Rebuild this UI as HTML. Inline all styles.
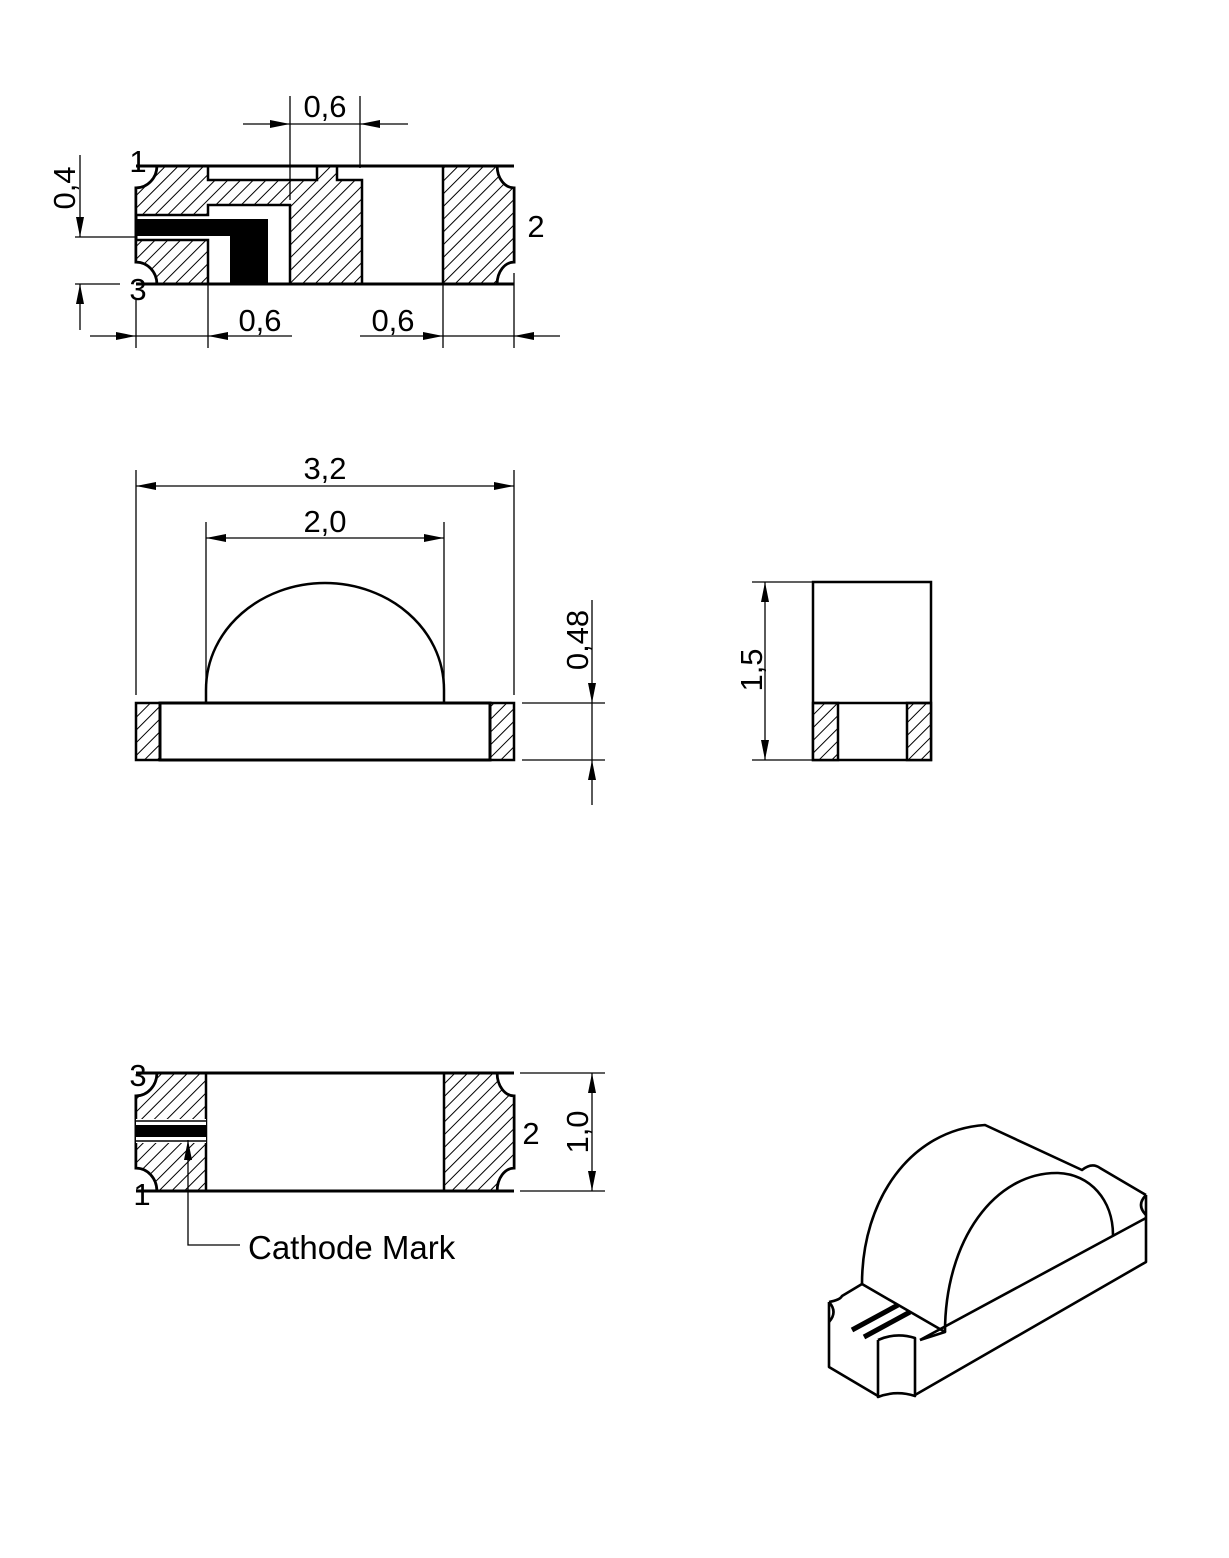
<!DOCTYPE html>
<html><head><meta charset="utf-8"><style>
html,body{margin:0;padding:0;background:#fff;}
svg{display:block;}
text{font-family:"Liberation Sans",sans-serif;fill:#000;}
</style></head><body>
<svg width="1229" height="1558" viewBox="0 0 1229 1558" xmlns="http://www.w3.org/2000/svg">
<defs>
<pattern id="h" patternUnits="userSpaceOnUse" width="9" height="9" patternTransform="rotate(45)">
<rect width="9" height="9" fill="#fff"/><line x1="0" y1="0" x2="0" y2="9" stroke="#000" stroke-width="2"/>
</pattern>
<marker id="a" viewBox="0 0 20 8" refX="20" refY="4" markerWidth="20" markerHeight="8" markerUnits="userSpaceOnUse" orient="auto"><path d="M0,0 L20,4 L0,8 Z" fill="#000"/></marker>
</defs>
<g stroke="#000" fill="none">

<!-- TOP VIEW -->
<path d="M157,166 H497 A17,22 0 0 0 514,188 V262 A17,22 0 0 0 497,284 H157 A21,22 0 0 0 136,262 V188 A21,22 0 0 0 157,166 Z" stroke-width="3" fill="#fff"/>
<path d="M157,166 H208 V180 H317 V166 H337 V180 H362 V284 H290 V205 H208 V215 H136 V188 A21,22 0 0 0 157,166 Z" fill="url(#h)" stroke-width="2.5"/>
<path d="M136,240 H208 V284 H157 A21,22 0 0 0 136,262 Z" fill="url(#h)" stroke-width="2.5"/>
<path d="M136,219 H268 V284 H230 V236 H136 Z" fill="#000" stroke="none"/>
<path d="M443,166 H497 A17,22 0 0 0 514,188 V262 A17,22 0 0 0 497,284 H443 Z" fill="url(#h)" stroke-width="2.5"/>
<line x1="136" y1="166" x2="514" y2="166" stroke-width="3"/>
<line x1="136" y1="284" x2="514" y2="284" stroke-width="3"/>
<g stroke-width="1.3">
<line x1="290" y1="96" x2="290" y2="200"/><line x1="360" y1="96" x2="360" y2="168"/>
<line x1="243" y1="124" x2="290" y2="124" marker-end="url(#a)"/>
<line x1="408" y1="124" x2="360" y2="124" marker-end="url(#a)"/>
<line x1="290" y1="124" x2="360" y2="124"/>
<line x1="75" y1="237" x2="136" y2="237"/><line x1="75" y1="284" x2="120" y2="284"/>
<line x1="80" y1="155" x2="80" y2="237" marker-end="url(#a)"/>
<line x1="80" y1="330" x2="80" y2="284" marker-end="url(#a)"/>
<line x1="136" y1="300" x2="136" y2="348"/><line x1="208" y1="284" x2="208" y2="348"/>
<line x1="443" y1="284" x2="443" y2="348"/><line x1="514" y1="273" x2="514" y2="348"/>
<line x1="90" y1="336" x2="136" y2="336" marker-end="url(#a)"/>
<line x1="292" y1="336" x2="208" y2="336" marker-end="url(#a)"/>
<line x1="136" y1="336" x2="208" y2="336"/>
<line x1="360" y1="336" x2="443" y2="336" marker-end="url(#a)"/>
<line x1="560" y1="336" x2="514" y2="336" marker-end="url(#a)"/>
<line x1="443" y1="336" x2="514" y2="336"/>
</g>

<!-- FRONT VIEW -->
<g stroke-width="1.3">
<line x1="136" y1="470" x2="136" y2="695"/><line x1="514" y1="470" x2="514" y2="695"/>
<line x1="325" y1="486" x2="136" y2="486" marker-end="url(#a)"/>
<line x1="325" y1="486" x2="514" y2="486" marker-end="url(#a)"/>
<line x1="206" y1="522" x2="206" y2="700"/><line x1="444" y1="522" x2="444" y2="700"/>
<line x1="325" y1="538" x2="206" y2="538" marker-end="url(#a)"/>
<line x1="325" y1="538" x2="444" y2="538" marker-end="url(#a)"/>
<line x1="522" y1="703" x2="605" y2="703"/><line x1="522" y1="760" x2="605" y2="760"/>
<line x1="592" y1="600" x2="592" y2="703" marker-end="url(#a)"/>
<line x1="592" y1="805" x2="592" y2="760" marker-end="url(#a)"/>
<line x1="592" y1="703" x2="592" y2="760"/>
</g>
<path d="M206,703 V690 C206,628 262,583 325,583 C388,583 444,628 444,690 V703" stroke-width="2.5" fill="#fff"/>
<rect x="136" y="703" width="24" height="57" fill="url(#h)" stroke-width="2.5"/>
<rect x="490" y="703" width="24" height="57" fill="url(#h)" stroke-width="2.5"/>
<rect x="160" y="703" width="330" height="57" stroke-width="3"/>

<!-- SIDE VIEW -->
<rect x="813" y="582" width="118" height="178" stroke-width="2.5" fill="#fff"/>
<rect x="813" y="703" width="25" height="57" fill="url(#h)" stroke-width="2.5"/>
<rect x="907" y="703" width="24" height="57" fill="url(#h)" stroke-width="2.5"/>
<line x1="813" y1="703" x2="931" y2="703" stroke-width="2.5"/>
<g stroke-width="1.3">
<line x1="752" y1="582" x2="813" y2="582"/><line x1="752" y1="760" x2="813" y2="760"/>
<line x1="765" y1="670" x2="765" y2="582" marker-end="url(#a)"/>
<line x1="765" y1="670" x2="765" y2="760" marker-end="url(#a)"/>
</g>

<!-- BOTTOM VIEW -->
<path d="M157,1073 H497 A17,23 0 0 0 514,1096 V1168 A17,23 0 0 0 497,1191 H157 A21,23 0 0 0 136,1168 V1096 A21,23 0 0 0 157,1073 Z" stroke-width="3" fill="#fff"/>
<path d="M157,1073 H206 V1191 H157 A21,23 0 0 0 136,1168 V1096 A21,23 0 0 0 157,1073 Z" fill="url(#h)" stroke-width="2.5"/>
<rect x="136" y="1119" width="70" height="24" fill="#fff" stroke="none"/>
<line x1="136" y1="1121" x2="206" y2="1121" stroke-width="1.5"/>
<line x1="136" y1="1141" x2="206" y2="1141" stroke-width="1.5"/>
<rect x="136" y="1125" width="70" height="12" fill="#000" stroke="none"/>
<path d="M444,1073 H497 A17,23 0 0 0 514,1096 V1168 A17,23 0 0 0 497,1191 H444 Z" fill="url(#h)" stroke-width="2.5"/>
<line x1="136" y1="1073" x2="514" y2="1073" stroke-width="3"/>
<line x1="136" y1="1191" x2="514" y2="1191" stroke-width="3"/>
<g stroke-width="1.3">
<line x1="520" y1="1073" x2="605" y2="1073"/><line x1="520" y1="1191" x2="605" y2="1191"/>
<line x1="592" y1="1132" x2="592" y2="1073" marker-end="url(#a)"/>
<line x1="592" y1="1132" x2="592" y2="1191" marker-end="url(#a)"/>
<path d="M240,1245 H188 V1140" marker-end="url(#a)"/>
</g>

<!-- 3D VIEW -->
<g stroke-width="2.6" stroke-linejoin="round">
<path d="M829,1302 V1367 L878,1396"/>
<path d="M878,1340 V1397 Q896,1390 915,1396 V1338 Q896,1332 878,1340"/>
<path d="M915,1395 L1146,1262 V1195"/>
<path d="M920,1340 L1146,1218"/>
<path d="M829,1302 Q840,1300 842,1296 L862,1284 L945,1332 L920,1340"/>
<path d="M829,1302 Q838,1312 829,1322"/>
<path d="M862,1284 C862,1200 910,1130 985,1125 L1082,1170 Q1092,1162 1100,1168 L1146,1195"/>
<path d="M1146,1195 Q1136,1205 1146,1215"/>
<path d="M945,1332 C945,1240 995,1172 1058,1173 C1090,1174 1113,1200 1113,1235"/>
<path d="M852,1330 L898,1305 M864,1337 L910,1312" stroke-width="5"/>
</g>
</g>

<!-- TEXT -->
<g font-size="31">
<text x="325" y="117" text-anchor="middle">0,6</text>
<text x="138" y="172" text-anchor="middle">1</text>
<text x="138" y="300" text-anchor="middle">3</text>
<text x="536" y="237" text-anchor="middle">2</text>
<text x="260" y="331" text-anchor="middle">0,6</text>
<text x="393" y="331" text-anchor="middle">0,6</text>
<text transform="translate(75,188) rotate(-90)" text-anchor="middle">0,4</text>
<text x="325" y="479" text-anchor="middle">3,2</text>
<text x="325" y="532" text-anchor="middle">2,0</text>
<text transform="translate(588,640) rotate(-90)" text-anchor="middle">0,48</text>
<text transform="translate(762,670) rotate(-90)" text-anchor="middle">1,5</text>
<text x="138" y="1086" text-anchor="middle">3</text>
<text x="142" y="1205" text-anchor="middle">1</text>
<text x="531" y="1144" text-anchor="middle">2</text>
<text transform="translate(588,1132) rotate(-90)" text-anchor="middle">1,0</text>
<text x="248" y="1259" font-size="33">Cathode Mark</text>
</g>
</svg>
</body></html>
